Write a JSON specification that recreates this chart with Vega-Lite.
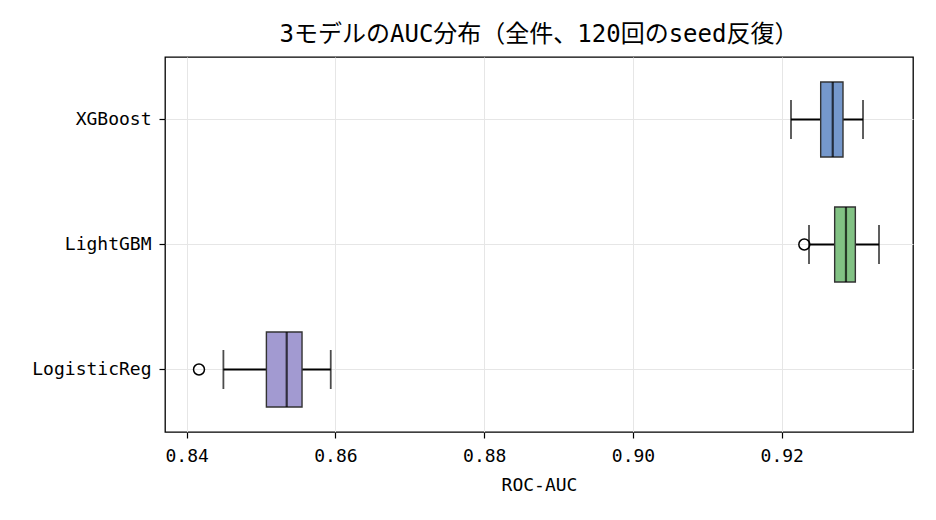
{
  "$schema": "https://vega.github.io/schema/vega-lite/v6.json",
  "autosize": "none",
  "width": 748,
  "height": 375,
  "padding": {"left": 165, "top": 57, "right": 23, "bottom": 88},
  "title": {"text": "3モデルのAUC分布（全件、120回のseed反復）", "fontSize": 24, "fontWeight": "normal", "font": "DejaVu Sans Mono, Noto Sans CJK JP", "color": "black", "offset": 10},
  "config": {
    "font": "DejaVu Sans Mono, Noto Sans CJK JP",
    "view": {"stroke": "black", "strokeWidth": 1.3},
    "axis": {"labelFont": "DejaVu Sans Mono, Noto Sans CJK JP", "titleFont": "DejaVu Sans Mono, Noto Sans CJK JP", "labelFontSize": 18, "titleFontSize": 18, "titleFontWeight": "normal", "labelColor": "black", "titleColor": "black", "tickColor": "black", "tickSize": 6, "tickWidth": 1.2, "domain": false, "grid": true, "gridColor": "#e6e6e6", "gridWidth": 1}
  },
  "datasets": {
    "stats": [
      {"model": "XGBoost", "lo": 0.92124, "q1": 0.92523, "med": 0.92685, "q3": 0.92823, "hi": 0.93092},
      {"model": "LightGBM", "lo": 0.92366, "q1": 0.92711, "med": 0.92863, "q3": 0.92989, "hi": 0.93307},
      {"model": "LogisticReg", "lo": 0.84494, "q1": 0.85072, "med": 0.85345, "q3": 0.85551, "hi": 0.85937}
    ],
    "outliers": [
      {"model": "LightGBM", "auc": 0.92303},
      {"model": "LogisticReg", "auc": 0.84166}
    ]
  },
  "data": {"name": "stats"},
  "encoding": {
    "y": {"field": "model", "type": "nominal", "sort": ["XGBoost", "LightGBM", "LogisticReg"], "scale": {"paddingInner": 0, "paddingOuter": 0}, "axis": {"title": null, "labelPadding": 8, "grid": true}}
  },
  "layer": [
    {
      "mark": {"type": "rule", "color": "black", "strokeWidth": 1.8},
      "encoding": {
        "x": {"field": "lo", "type": "quantitative", "scale": {"domain": [0.83709, 0.93764], "nice": false, "zero": false}, "axis": {"title": "ROC-AUC", "values": [0.84, 0.86, 0.88, 0.9, 0.92], "format": ".2f", "labelPadding": 9, "titlePadding": 11}},
        "x2": {"field": "hi"}
      }
    },
    {
      "mark": {"type": "tick", "color": "black", "size": 39, "thickness": 1.8},
      "encoding": {"x": {"field": "lo", "type": "quantitative"}}
    },
    {
      "mark": {"type": "tick", "color": "black", "size": 39, "thickness": 1.8},
      "encoding": {"x": {"field": "hi", "type": "quantitative"}}
    },
    {
      "mark": {"type": "bar", "height": {"band": 0.6}, "stroke": "#333333", "strokeWidth": 1.4, "opacity": 1},
      "encoding": {
        "x": {"field": "q1", "type": "quantitative"},
        "x2": {"field": "q3"},
        "color": {"field": "model", "type": "nominal", "scale": {"domain": ["XGBoost", "LightGBM", "LogisticReg"], "range": ["#7598cc", "#82c284", "#a29ad1"]}, "legend": null}
      }
    },
    {
      "mark": {"type": "tick", "color": "black", "size": 75, "thickness": 2.2},
      "encoding": {"x": {"field": "med", "type": "quantitative"}}
    },
    {
      "data": {"name": "outliers"},
      "mark": {"type": "point", "shape": "circle", "filled": false, "stroke": "black", "strokeWidth": 1.5, "size": 120, "opacity": 1},
      "encoding": {
        "x": {"field": "auc", "type": "quantitative"},
        "y": {"field": "model", "type": "nominal", "sort": ["XGBoost", "LightGBM", "LogisticReg"]}
      }
    }
  ]
}
